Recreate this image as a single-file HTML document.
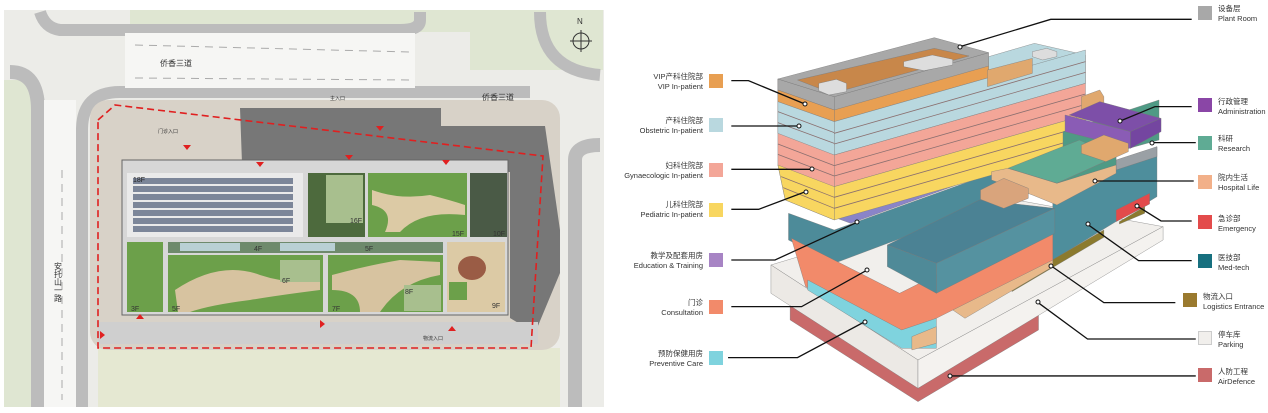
<!DOCTYPE html>
<html><head><meta charset="utf-8"><style>
html,body{margin:0;padding:0;background:#fff;width:1268px;height:413px;overflow:hidden;font-family:"Liberation Sans","Noto Sans CJK SC",sans-serif}
.l{position:absolute;text-align:right;width:150px;font-size:7.5px;line-height:10px;color:#333}
.r{position:absolute;font-size:7.5px;line-height:10px;color:#333}
.sw{position:absolute;width:14px;height:14px}
</style></head><body>
<svg width="1268" height="413" style="position:absolute;left:0;top:0">
<!-- MAP -->
<rect x="4" y="10" width="600" height="397" fill="#ecece8"/>
<rect x="130" y="10" width="340" height="22" fill="#dfe6d2"/>
<rect x="470" y="10" width="133" height="60" fill="#dfe6d2"/>
<rect x="4" y="80" width="30" height="327" fill="#dfe6d2"/>
<path d="M40 12 Q45 28 60 30 L400 30 Q420 30 420 20 L420 12" fill="none" stroke="#bcbcbc" stroke-width="12"/>
<path d="M10 72 Q38 72 38 110 L38 407" fill="none" stroke="#bcbcbc" stroke-width="14"/>
<path d="M82 407 L82 130 Q82 92 120 92 L530 92" fill="none" stroke="#bcbcbc" stroke-width="12"/>
<path d="M540 12 Q540 70 600 75" fill="none" stroke="#bcbcbc" stroke-width="12"/>
<path d="M575 407 L575 160 Q575 145 600 145" fill="none" stroke="#bcbcbc" stroke-width="14"/>
<rect x="125" y="33" width="290" height="55" fill="#f6f6f4"/>
<line x1="135" y1="45" x2="410" y2="52" stroke="#aaa" stroke-dasharray="8 6"/>
<line x1="135" y1="78" x2="410" y2="80" stroke="#aaa" stroke-dasharray="8 6"/>
<rect x="44" y="100" width="32" height="307" fill="#f6f6f4"/>
<line x1="62" y1="170" x2="62" y2="400" stroke="#aaa" stroke-dasharray="8 6"/>
<rect x="98" y="348" width="462" height="59" fill="#e5e8d2"/>
<rect x="90" y="100" width="470" height="250" rx="18" fill="#d8d2c8"/>
<polygon points="240,108 441,108 441,126 545,126 560,230 560,273 535,333 510,318 510,172 242,163" fill="#777"/>
<rect x="98" y="322" width="440" height="22" fill="#cfcfcf"/>
<rect x="122" y="160" width="386" height="155" fill="#d7d7d7" stroke="#666"/>
<rect x="127" y="173" width="176" height="64" fill="#eaeaea"/>
<g fill="#7c8699"><rect x="133" y="178" width="160" height="6"/><rect x="133" y="186" width="160" height="6"/><rect x="133" y="194" width="160" height="6"/><rect x="133" y="202" width="160" height="6"/><rect x="133" y="210" width="160" height="6"/><rect x="133" y="218" width="160" height="6"/><rect x="133" y="226" width="160" height="6"/></g>
<rect x="308" y="173" width="57" height="64" fill="#4d6a3d"/><rect x="326" y="175" width="37" height="48" fill="#a8bf8e"/>
<rect x="368" y="173" width="99" height="64" fill="#6ca04a"/><path d="M372 190 Q400 200 430 195 Q450 200 465 205 L465 215 Q420 210 400 232 L385 232 Q395 210 372 205Z" fill="#dccaa5"/>
<rect x="470" y="173" width="37" height="64" fill="#4a5a46"/>
<rect x="127" y="242" width="36" height="70" fill="#6ca04a"/>
<rect x="168" y="242" width="275" height="11" fill="#6e8a6c"/><rect x="180" y="243" width="60" height="8" fill="#b9d0d4"/><rect x="280" y="243" width="55" height="8" fill="#b9d0d4"/>
<rect x="168" y="255" width="155" height="57" fill="#6ca04a"/><path d="M175 290 Q220 260 260 275 Q290 285 320 280 L320 290 Q280 295 250 300 Q210 305 190 312 L178 312Z" fill="#d7c3a0"/><rect x="280" y="260" width="40" height="22" fill="#a8bf8e"/>
<rect x="328" y="255" width="115" height="57" fill="#6ca04a"/><path d="M332 275 Q370 265 400 260 L440 262 L440 275 Q400 282 380 312 L360 312 Q360 290 332 290Z" fill="#d7c3a0"/><rect x="404" y="285" width="37" height="26" fill="#a8bf8e"/>
<rect x="447" y="242" width="58" height="70" fill="#dccaa5"/><ellipse cx="472" cy="268" rx="14" ry="12" fill="#9a5c45"/><rect x="449" y="282" width="18" height="18" fill="#6ca04a"/>
<polygon points="98,120 115,105 543,156 531,348 98,348" fill="none" stroke="#e02020" stroke-width="1.6" stroke-dasharray="7 4"/>
<g fill="#e02020"><polygon points="183,145 191,145 187,150"/><polygon points="256,162 264,162 260,167"/><polygon points="376,126 384,126 380,131"/><polygon points="345,155 353,155 349,160"/><polygon points="442,160 450,160 446,165"/><polygon points="448,331 456,331 452,326"/><polygon points="136,319 144,319 140,314"/><polygon points="100,331 100,339 105,335"/><polygon points="320,320 320,328 325,324"/></g>
<g font-size="8" fill="#333" font-family="Liberation Sans,Noto Sans CJK SC,sans-serif">
<text x="160" y="66">侨香三道</text><text x="482" y="100">侨香三道</text>
<text font-size="7" fill="#222" x="133" y="182">18F</text><text font-size="7" x="350" y="223">16F</text><text font-size="7" x="452" y="236">15F</text><text font-size="7" x="493" y="236">10F</text>
<text font-size="7" x="254" y="251">4F</text><text font-size="7" x="365" y="251">5F</text><text font-size="7" x="282" y="283">6F</text><text font-size="7" x="405" y="294">8F</text>
<text font-size="7" x="131" y="311">3F</text><text font-size="7" x="172" y="311">5F</text><text font-size="7" x="332" y="311">7F</text><text font-size="7" x="492" y="308">9F</text>
<text font-size="5" x="330" y="100">主入口</text><text font-size="5" x="423" y="340">物流入口</text><text font-size="5" x="158" y="133">门诊入口</text>
</g>
<text x="0" y="0" font-size="8" fill="#333" transform="translate(58,262)" style="writing-mode:tb">安托山一路</text>
<circle cx="581" cy="41" r="8" fill="none" stroke="#333"/><line x1="581" y1="30" x2="581" y2="52" stroke="#333"/><line x1="570" y1="41" x2="592" y2="41" stroke="#333"/><text x="577" y="24" font-size="8" fill="#333">N</text>

<!-- 3D BUILDING in zoom coords -->
<g transform="translate(630,0) scale(0.4085,0.3333)" stroke="#777" stroke-width="1" vector-effect="non-scaling-stroke">
<polygon points="392,900 705,1140 1000,945 1000,990 705,1205 392,960" fill="#c96a6a"/>
<polygon points="345,795 900,590 1305,680 705,1080" fill="#f1efec"/>
<polygon points="345,795 705,1080 705,1165 345,880" fill="#ece9e5"/>
<polygon points="705,1080 1305,680 1305,720 705,1165" fill="#f4f2ef"/>
<polygon points="1035,600 1290,440 1290,590 1035,780" fill="#4e8e9c"/>
<polygon points="935,850 1160,690 1160,712 935,875" fill="#8b7a2e"/>
<polygon points="1190,630 1272,580 1272,612 1190,665" fill="#e34b4b"/>
<polygon points="1198,665 1260,620 1260,640 1198,672" fill="#8b7a2e"/>
<polygon points="790,930 1035,760 1035,800 820,955" fill="#e8b98a"/>
<polygon points="388,640 500,690 1000,470 1000,560 500,790 388,720" fill="#4d8b99"/>
<polygon points="430,620 540,670 1060,440 1060,395 540,630" fill="#8a84c8"/>
<polygon points="395,715 660,880 1035,650 1035,780 660,1010 430,860" fill="#f28a6a"/>
<polygon points="435,840 665,990 750,955 750,1045 665,1045 435,870" fill="#7fd3de"/>
<polygon points="690,1010 750,980 750,1030 690,1050" fill="#e8b98a"/>
<polygon points="630,735 855,600 1040,625 750,790" fill="#4b8294"/>
<polygon points="750,790 1040,625 1040,700 750,880" fill="#5592a0"/>
<polygon points="630,735 750,790 750,880 630,800" fill="#4f8a98"/>
<!-- tower -->
<polygon points="362,237 500,290 500,660 380,600 362,495" fill="#f3a698"/>
<polygon points="362,237 500,290 500,330 362,270" fill="#a8a8a8"/>
<polygon points="362,270 500,330 500,365 362,305" fill="#e89f52"/>
<polygon points="362,305 500,365 500,465 362,400" fill="#b9d8df"/>
<polygon points="362,495 500,560 500,660 380,600" fill="#f8d660"/>
<polygon points="500,290 878,158 878,233 500,365" fill="#a8a8a8"/>
<polygon points="500,330 878,198 878,233 500,365" fill="#e89f52"/>
<polygon points="878,170 990,130 1115,165 1115,250 878,300" fill="#b9d8df"/>
<polygon points="500,365 878,233 1115,150 1115,250 500,465" fill="#b9d8df"/>
<polygon points="500,465 1115,250 1115,345 500,560" fill="#f3a698"/>
<polygon points="500,560 1115,345 1115,445 500,660" fill="#f8d660"/>
<g fill="none" stroke="#8a6f6f" stroke-width="0.8">
<line x1="500" y1="400" x2="1115" y2="185" vector-effect="non-scaling-stroke"/>
<line x1="500" y1="432" x2="1115" y2="217" vector-effect="non-scaling-stroke"/>
<line x1="500" y1="497" x2="1115" y2="282" vector-effect="non-scaling-stroke"/>
<line x1="500" y1="528" x2="1115" y2="313" vector-effect="non-scaling-stroke"/>
<line x1="500" y1="592" x2="1115" y2="377" vector-effect="non-scaling-stroke"/>
<line x1="500" y1="625" x2="1115" y2="410" vector-effect="non-scaling-stroke"/>
<line x1="362" y1="335" x2="500" y2="398" vector-effect="non-scaling-stroke"/>
<line x1="362" y1="368" x2="500" y2="430" vector-effect="non-scaling-stroke"/>
<line x1="362" y1="432" x2="500" y2="497" vector-effect="non-scaling-stroke"/>
<line x1="362" y1="463" x2="500" y2="528" vector-effect="non-scaling-stroke"/>
<line x1="370" y1="530" x2="500" y2="592" vector-effect="non-scaling-stroke"/>
<line x1="375" y1="563" x2="500" y2="625" vector-effect="non-scaling-stroke"/>
</g>
<polygon points="875,210 985,175 985,220 875,260" fill="#e0a86e"/>
<polygon points="1105,290 1150,270 1160,290 1160,320 1105,340" fill="#e0a86e"/>
<polygon points="362,237 745,113 878,158 500,290" fill="#a8a8a8"/>
<polygon points="410,240 745,145 830,168 495,280" fill="#c8874a"/>
<polygon points="462,250 505,238 530,250 530,275 487,285 462,272" fill="#ddd"/>
<polygon points="670,185 740,165 790,178 790,195 720,212 670,200" fill="#ddd"/>
<polygon points="985,155 1020,145 1045,155 1045,170 1010,180 985,170" fill="#ddd"/>
<!-- right mid -->
<polygon points="1060,395 1295,300 1295,420 1060,500" fill="#4f9a85"/>
<polygon points="1190,480 1290,440 1290,470 1190,510" fill="#9aa0a5"/>
<polygon points="925,505 1100,420 1190,470 1045,550" fill="#5fab94"/>
<polygon points="1045,550 1190,470 1190,510 1045,585" fill="#4f9a85"/>
<polygon points="925,505 1045,550 1045,585 925,540" fill="#5a9f8a"/>
<polygon points="885,515 925,505 1045,550 1190,495 1190,520 1045,615 985,585 885,540" fill="#e8b98a"/>
<polygon points="858,570 915,535 975,565 975,595 915,625 858,598" fill="#d9a47c"/>
<polygon points="1075,345 1150,305 1300,355 1225,395" fill="#7d4fa8"/>
<polygon points="1065,345 1225,395 1225,445 1065,395" fill="#8a5cb5"/>
<polygon points="1225,395 1300,355 1300,395 1225,445" fill="#7446a0"/>
<polygon points="1105,435 1160,405 1220,430 1220,455 1165,485 1105,460" fill="#e0a86e"/>
</g>
<g transform="translate(630,0) scale(0.4085,0.3333)" fill="none" stroke="#111" stroke-width="1.3" vector-effect="non-scaling-stroke">
<polyline points="1375,58 1030,58 808,140" vector-effect="non-scaling-stroke"/>
<polyline points="248,242 290,242 428,312" vector-effect="non-scaling-stroke"/>
<polyline points="248,378 413,378" vector-effect="non-scaling-stroke"/>
<polyline points="248,508 446,508" vector-effect="non-scaling-stroke"/>
<polyline points="248,628 315,628 430,575" vector-effect="non-scaling-stroke"/>
<polyline points="248,780 355,780 556,667" vector-effect="non-scaling-stroke"/>
<polyline points="248,920 420,920 581,810" vector-effect="non-scaling-stroke"/>
<polyline points="240,1073 410,1073 575,965" vector-effect="non-scaling-stroke"/>
<polyline points="1375,320 1285,320 1200,363" vector-effect="non-scaling-stroke"/>
<polyline points="1385,428 1278,428" vector-effect="non-scaling-stroke"/>
<polyline points="1380,543 1138,543" vector-effect="non-scaling-stroke"/>
<polyline points="1375,663 1300,663 1240,617" vector-effect="non-scaling-stroke"/>
<polyline points="1375,782 1245,782 1120,673" vector-effect="non-scaling-stroke"/>
<polyline points="1335,908 1160,908 1030,797" vector-effect="non-scaling-stroke"/>
<polyline points="1385,1017 1120,1017 998,907" vector-effect="non-scaling-stroke"/>
<polyline points="1385,1128 783,1128" vector-effect="non-scaling-stroke"/>
</g>
<g fill="#fff" stroke="#111" stroke-width="1">
<circle cx="960" cy="47" r="2"/><circle cx="805" cy="104" r="2"/><circle cx="799" cy="126" r="2"/><circle cx="812" cy="169" r="2"/><circle cx="806" cy="192" r="2"/><circle cx="857" cy="222" r="2"/><circle cx="867" cy="270" r="2"/><circle cx="865" cy="322" r="2"/><circle cx="1120" cy="121" r="2"/><circle cx="1152" cy="143" r="2"/><circle cx="1095" cy="181" r="2"/><circle cx="1137" cy="206" r="2"/><circle cx="1088" cy="224" r="2"/><circle cx="1051" cy="266" r="2"/><circle cx="1038" cy="302" r="2"/><circle cx="950" cy="376" r="2"/>
</g>
</svg>
<!-- left legend -->
<div class="l" style="left:553px;top:72px">VIP产科住院部<br>VIP In-patient</div><div class="sw" style="left:709px;top:74px;background:#e89f52"></div>
<div class="l" style="left:553px;top:116px">产科住院部<br>Obstetric In-patient</div><div class="sw" style="left:709px;top:118px;background:#b9d8df"></div>
<div class="l" style="left:553px;top:161px">妇科住院部<br>Gynaecologic In-patient</div><div class="sw" style="left:709px;top:163px;background:#f3a698"></div>
<div class="l" style="left:553px;top:200px">儿科住院部<br>Pediatric In-patient</div><div class="sw" style="left:709px;top:203px;background:#f8d660"></div>
<div class="l" style="left:553px;top:251px">教学及配套用房<br>Education &amp; Training</div><div class="sw" style="left:709px;top:253px;background:#a784c4"></div>
<div class="l" style="left:553px;top:298px">门诊<br>Consultation</div><div class="sw" style="left:709px;top:300px;background:#f28a6a"></div>
<div class="l" style="left:553px;top:349px">预防保健用房<br>Preventive Care</div><div class="sw" style="left:709px;top:351px;background:#7fd3de"></div>
<!-- right legend -->
<div class="sw" style="left:1198px;top:6px;background:#a8a8a8"></div><div class="r" style="left:1218px;top:4px">设备层<br>Plant Room</div>
<div class="sw" style="left:1198px;top:98px;background:#8a46a6"></div><div class="r" style="left:1218px;top:97px">行政管理<br>Administration</div>
<div class="sw" style="left:1198px;top:136px;background:#5fab94"></div><div class="r" style="left:1218px;top:134px">科研<br>Research</div>
<div class="sw" style="left:1198px;top:175px;background:#f2b089"></div><div class="r" style="left:1218px;top:173px">院内生活<br>Hospital Life</div>
<div class="sw" style="left:1198px;top:215px;background:#e34b4b"></div><div class="r" style="left:1218px;top:214px">急诊部<br>Emergency</div>
<div class="sw" style="left:1198px;top:254px;background:#17707f"></div><div class="r" style="left:1218px;top:253px">医技部<br>Med-tech</div>
<div class="sw" style="left:1183px;top:293px;background:#9a7a2e"></div><div class="r" style="left:1203px;top:292px">物流入口<br>Logistics Entrance</div>
<div class="sw" style="left:1198px;top:331px;background:#f1efec;box-shadow:inset 0 0 0 1px #ccc"></div><div class="r" style="left:1218px;top:330px">停车库<br>Parking</div>
<div class="sw" style="left:1198px;top:368px;background:#c96a6a"></div><div class="r" style="left:1218px;top:367px">人防工程<br>AirDefence</div>
</body></html>
